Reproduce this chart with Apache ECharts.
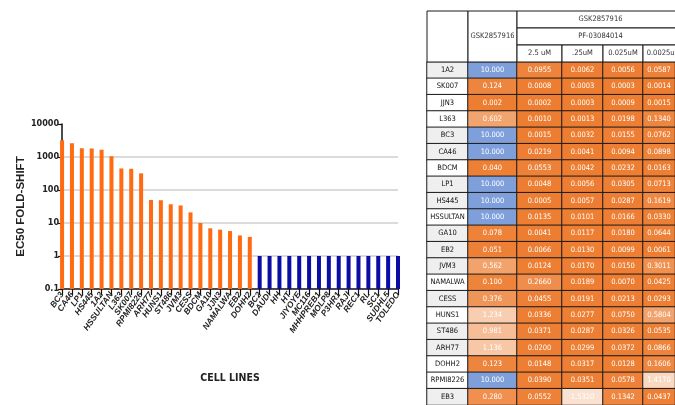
<!DOCTYPE html>
<html><head><meta charset="utf-8">
<script src="https://cdn.jsdelivr.net/npm/echarts@6/dist/echarts.min.js"></script>
<style>html,body{margin:0;padding:0;background:#fff}#c{width:675px;height:405px}</style>
</head><body><div id="c"></div>
<script>
// ---- Bar chart data ----
const cellLines = ['BC3','CA46','LP1','HS445','1A2','HSSULTAN','L363','SK007','RPMI8226','ARH77','HUNS1','ST486','JVM3','CESS','BDCM','GA10','JJN3','NAMALWA','EB2','DOHH2','BC2','DAUDI','HH','HT','JIYOYE','MC116','MHHPREB1','MOLP8','P3HR1','RAJI','REC1','RL','SC1','SUDHL5','TOLEDO'];
const shiftedFoldShift = [3200,2600,1850,1800,1650,1050,450,440,320,50,49,37,34,21,10,6.9,6.3,5.7,4.2,3.8];
const unshiftedFoldShift = [1,1,1,1,1,1,1,1,1,1,1,1,1,1,1];
const yAxisTicks = [0.1,1,10,100,1000,10000];

// ---- Table data ----
const tableRows = ['1A2','SK007','JJN3','L363','BC3','CA46','BDCM','LP1','HS445','HSSULTAN','GA10','EB2','JVM3','NAMALWA','CESS','HUNS1','ST486','ARH77','DOHH2','RPMI8226','EB3'];
const drugTop = 'GSK2857916';
const drugCombo = 'PF-03084014';
const concLabels = ['2.5 uM','.25uM','0.025uM','0.0025uM'];
const gskAlone  = [10.000,0.124,0.002,0.602,10.000,10.000,0.040,10.000,10.000,10.000,0.078,0.051,0.562,0.100,0.376,1.234,0.981,1.136,0.123,10.000,0.280];
const pf2_5     = [0.0955,0.0008,0.0002,0.0010,0.0015,0.0219,0.0553,0.0048,0.0005,0.0135,0.0041,0.0066,0.0124,0.2660,0.0455,0.0336,0.0371,0.0200,0.0148,0.0390,0.0552];
const pf0_25    = [0.0062,0.0003,0.0003,0.0013,0.0032,0.0041,0.0042,0.0056,0.0057,0.0101,0.0117,0.0130,0.0170,0.0189,0.0191,0.0277,0.0287,0.0299,0.0317,0.0351,1.5320];
const pf0_025   = [0.0056,0.0003,0.0009,0.0198,0.0155,0.0094,0.0232,0.0305,0.0287,0.0166,0.0180,0.0099,0.0150,0.0070,0.0213,0.0750,0.0326,0.0372,0.0128,0.0578,0.1342];
const pf0_0025  = [0.0587,0.0014,0.0015,0.1340,0.0762,0.0898,0.0163,0.0713,0.1619,0.0330,0.0644,0.0061,0.3011,0.0425,0.0293,0.5804,0.0535,0.0866,0.1606,1.4170,0.0437];
const shadedRows = ['1A2','BC3','CA46','LP1','HS445','GA10','EB2','JVM3','CESS','ST486','ARH77','EB3'];

// ---- layout / style ----
const ORANGE = '#FF6A12', BLUE = '#0C0CA6';
const NARROW = '"Liberation Sans Narrow","DejaVu Sans Condensed",sans-serif';
const colEdges = [427,468,517,562,603,643,684];
const headEdges = [11,28,45,62];
const rowH = 16.5;
const valueCols = [{d:gskAlone,dec:3},{d:pf2_5,dec:4},{d:pf0_25,dec:4},{d:pf0_025,dec:4},{d:pf0_0025,dec:4}];

const chart = echarts.init(document.getElementById('c'));
const grids = [{left:48, width:350, top:124, height:165}];
const xAxes = [{
  gridIndex:0, type:'category', data:cellLines, boundaryGap:false,
  axisLine:{lineStyle:{color:'#111', width:1.5}},
  axisTick:{show:true, length:6, lineStyle:{color:'#111', width:1.2}},
  axisLabel:{rotate:55, fontSize:8.5, fontWeight:'bold', fontStyle:'italic', color:'#222', margin:4, interval:0, fontFamily:'Arial, "Liberation Sans", sans-serif'},
  name:'CELL LINES', nameLocation:'middle', nameGap:84,
  nameTextStyle:{fontSize:10.5, fontWeight:'bold', color:'#222', fontFamily:NARROW}
}];
const yAxes = [{
  gridIndex:0, type:'log', logBase:10, min:yAxisTicks[0], max:yAxisTicks[yAxisTicks.length-1], startValue:yAxisTicks[0],
  axisLine:{show:true, lineStyle:{color:'#111', width:1.5}},
  axisTick:{show:true, length:4, lineStyle:{color:'#111', width:1.2}},
  axisLabel:{fontSize:9, fontWeight:'bold', color:'#222', margin:3, fontFamily:NARROW,
    formatter: v => String(Number(Number(v).toPrecision(6)))},
  splitLine:{show:true, showMinLine:false, showMaxLine:false, lineStyle:{color:'#cfcfcf', width:1.6}},
  name:'EC50 FOLD-SHIFT', nameLocation:'middle', nameGap:33,
  nameTextStyle:{fontSize:11.5, fontWeight:'bold', color:'#222', fontFamily:'Arial, "Liberation Sans", sans-serif'}
}];
const allFold = shiftedFoldShift.concat(unshiftedFoldShift);
const series = [{
  type:'bar', xAxisIndex:0, yAxisIndex:0, barWidth:4, silent:true,
  data: allFold.map((v,i) => ({value:v, itemStyle:{color: i < shiftedFoldShift.length ? ORANGE : BLUE}}))
}];

// table grids: column 0 = row labels, 1..5 = values
const valueSeriesIdx = [];
for (let c = 0; c < 6; c++) {
  const gi = c + 1;
  grids.push({left:colEdges[c], width:colEdges[c+1]-colEdges[c], top:headEdges[3], height:rowH*tableRows.length});
  xAxes.push({gridIndex:gi, type:'category', data:['c'], show:false});
  yAxes.push({gridIndex:gi, type:'category', data:tableRows, inverse:true, show:false});
  if (c === 0) {
    series.push({
      type:'heatmap', xAxisIndex:gi, yAxisIndex:gi, silent:true,
      data: tableRows.map((r,i) => ({value:[0,i,0], itemStyle:{color: shadedRows.includes(r) ? '#efefef' : '#ffffff'}})),
      itemStyle:{borderColor:'#1a1a1a', borderWidth:1},
      label:{show:true, color:'#111', fontSize:7.5, fontFamily:NARROW, formatter: p => tableRows[p.value[1]]}
    });
  } else {
    const col = valueCols[c-1];
    valueSeriesIdx.push(series.length);
    series.push({
      type:'heatmap', xAxisIndex:gi, yAxisIndex:gi, silent:true,
      data: col.d.map((v,i) => [0,i,v]),
      itemStyle:{borderColor:'#1a1a1a', borderWidth:1},
      label:{show:true, color:'#fff', fontSize:7.5, fontFamily:NARROW, formatter: p => p.value[2].toFixed(col.dec)}
    });
  }
}

// header cells as graphic
const g = [];
function cell(x0,x1,y0,y1,text){
  g.push({type:'rect', shape:{x:x0,y:y0,width:x1-x0,height:y1-y0}, style:{fill:'#fff', stroke:'#1a1a1a', lineWidth:1}, z:10});
  if (text) g.push({type:'text', x:(x0+x1)/2, y:(y0+y1)/2, style:{text:text, align:'center', verticalAlign:'middle', fontSize:7.5, fontFamily:NARROW, fill:'#333'}, z:11});
}
cell(colEdges[0], colEdges[1], headEdges[0], headEdges[3], '');
cell(colEdges[1], colEdges[2], headEdges[0], headEdges[3], drugTop);
cell(colEdges[2], colEdges[6], headEdges[0], headEdges[1], drugTop);
cell(colEdges[2], colEdges[6], headEdges[1], headEdges[2], drugCombo);
for (let k = 0; k < concLabels.length; k++) cell(colEdges[k+2], colEdges[k+3], headEdges[2], headEdges[3], concLabels[k]);

chart.setOption({
  animation:false,
  backgroundColor:'#fff',
  grid:grids, xAxis:xAxes, yAxis:yAxes, series:series,
  visualMap:{type:'continuous', show:false, seriesIndex:valueSeriesIdx, dimension:2, min:0, max:10,
    inRange:{color:['#ED7D31','#FFFFFF','#DFE7F6','#BFCFED','#9FB7E4','#7F9FDB']}},
  graphic:g
});
</script></body></html>
